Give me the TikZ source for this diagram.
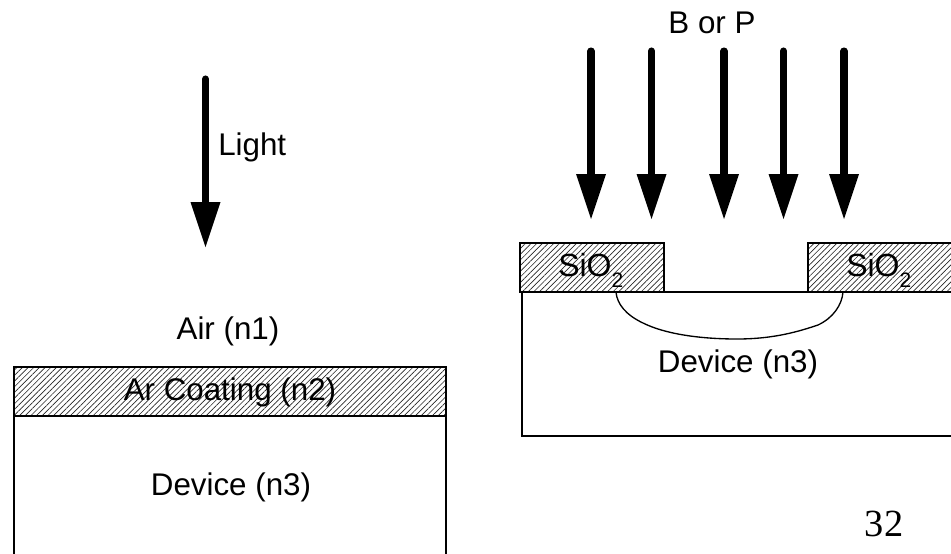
\documentclass[tikz,border=0pt]{standalone}
\usepackage{fontspec}
\setmainfont{Liberation Sans}
\newfontfamily\numfont{Liberation Serif}
\usetikzlibrary{patterns.meta}
\newcommand{\sioxide}{\fontsize{24}{26}\selectfont SiO\raisebox{-8.8pt}{\fontsize{15.7}{17}\selectfont 2}}
\tikzset{
  lbl/.style={font=\fontsize{23.5}{26}\selectfont,text=black,inner sep=0pt,anchor=base},
  hatchbox/.style={draw=black,line width=1.1pt,pattern={Lines[angle=45,distance=3pt,line width=0.5pt]},pattern color=black!85},
  wall/.style={draw=black,line width=1.3pt},
  thin wall/.style={draw=black,line width=0.9pt},
  beam/.style={line width=5.3pt,line cap=round,black},
  tip/.style={fill=black,draw=none}
}
\begin{document}
\begin{tikzpicture}[x=0.75pt,y=-0.75pt]
\useasboundingbox (0,0) rectangle (951,554);
% left stack
\path[hatchbox] (14,367) rectangle (446,416);
\draw[wall] (14,416) -- (14,556) (446,416) -- (446,556);
\node[lbl] (coat) at (230,400) {Ar Coating (n2)};
\node[lbl] (dev1) at (231,495) {Device (n3)};
\node[lbl] (air) at (228,339) {Air (n1)};
\coordinate (ls) at (205.5,79);
\coordinate (lb) at (205.5,202);
\coordinate (le) at (205.5,247);
\draw[beam] (ls) -- (lb);
\fill[tip] (le) -- ++(-15,-45) -- ++(30,0) -- cycle;
\node[lbl,anchor=base west] (light) at (218,155) {Light};
% right stack
\node[lbl] (borp) at (712,33) {B or P};
\foreach \n/\x in {a/591,b/651.5,c/724,d/783.5,e/844}{
  \coordinate (s\n) at (\x,51);
  \coordinate (b\n) at (\x,174);
  \coordinate (t\n) at (\x,219);
  \draw[beam] (s\n) -- (b\n);
  \fill[tip] (t\n) -- ++(-15,-45) -- ++(30,0) -- cycle;
}
\draw[wall] (522,292) -- (522,436) -- (953,436);
\draw[thin wall] (664,292) -- (808,292);
\path[hatchbox] (520,243) rectangle (664,292);
\path[hatchbox] (808,243) rectangle (955,292);
\node[lbl,anchor=base west] (s1) at (558,276) {\sioxide};
\node[lbl,anchor=base west] (s2) at (846,276) {\sioxide};
\draw[black,line width=1pt,line join=round]
  (616,292) .. controls (617,304) and (626,315) .. (643,323)
  .. controls (665,334) and (700,339) .. (737,339)
  .. controls (775,339) and (800,331) .. (818,325)
  .. controls (833,318) and (842,305) .. (843,292);
\node[lbl] (dev2) at (738,372) {Device (n3)};
\node[font=\numfont\fontsize{28.8}{32}\selectfont,inner sep=0pt,anchor=base] (num) at (884,536) {32};
\end{tikzpicture}
\end{document}
